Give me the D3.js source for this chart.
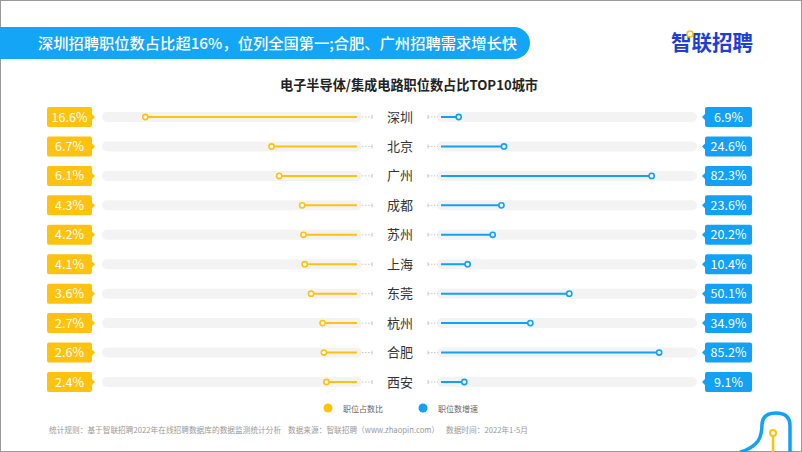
<!DOCTYPE html>
<html><head><meta charset="utf-8">
<script src="https://cdn.jsdelivr.net/npm/d3@7"></script>
<style>
html,body{margin:0;padding:0;background:#fff;}
svg{display:block;font-family:"Noto Sans CJK SC","Noto Sans",sans-serif;}
</style></head>
<body>
<script>
const cities = ["深圳","北京","广州","成都","苏州","上海","东莞","杭州","合肥","西安"];
const shareValues = [16.6, 6.7, 6.1, 4.3, 4.2, 4.1, 3.6, 2.7, 2.6, 2.4];
const growthValues = [6.9, 24.6, 82.3, 23.6, 20.2, 10.4, 50.1, 34.9, 85.2, 9.1];
const legendLabels = ["职位占数比", "职位数增速"];
const headline = "深圳招聘职位数占比超16%，位列全国第一;合肥、广州招聘需求增长快";
const chartTitle = "电子半导体/集成电路职位数占比TOP10城市";
const footnote = "统计规则：基于智联招聘2022年在线招聘数据库的数据监测统计分析    数据来源：智联招聘（www.zhaopin.com）    数据时间：2022年1-5月";

const W = 802, H = 452;
const YEL = "#FFC20E", BLUE = "#12A1F5", TRACK = "#F3F3F3";

const svg = d3.select("body").append("svg").attr("width", W).attr("height", H);
svg.append("rect").attr("x",0.5).attr("y",0.5).attr("width",W-1).attr("height",H-1)
  .attr("fill","#fff").attr("stroke","#9a9a9a");

// headline banner
svg.append("path").attr("d","M0,27 H514 A16,16 0 0 1 514,59 H0 Z").attr("fill","#15A5F6");
svg.append("text").attr("x",38).attr("y",48.5).attr("fill","#fff").attr("font-size",15)
  .attr("font-weight",500).attr("textLength",479).attr("lengthAdjust","spacingAndGlyphs").text(headline);
// logo
svg.append("text").attr("x",671).attr("y",50).attr("fill","#1E3FD0").attr("font-size",21)
  .attr("font-weight",700).attr("textLength",82).attr("lengthAdjust","spacingAndGlyphs").text("智联招聘");
svg.append("circle").attr("cx",690).attr("cy",34).attr("r",3).attr("fill","#fff").attr("stroke","#FFC20E").attr("stroke-width",1.6);

svg.append("text").attr("x",280).attr("y",90).attr("font-size",13.5)
  .attr("font-weight",700).attr("fill","#222").attr("textLength",258).attr("lengthAdjust","spacingAndGlyphs").text(chartTitle);

const y = d3.scalePoint().domain(cities).range([117, 382]);
const xL = d3.scaleLinear().domain([0, 20]).range([357, 102]);
const xR = d3.scaleLinear().domain([0, 100]).range([441, 697]);

const rows = svg.append("g").selectAll("g").data(cities).join("g")
  .attr("transform", d => `translate(0,${y(d)})`);

// tracks
rows.append("rect").attr("x",102).attr("y",-5).attr("width",260).attr("height",10).attr("rx",5).attr("fill",TRACK);
rows.append("rect").attr("x",437).attr("y",-5).attr("width",260).attr("height",10).attr("rx",5).attr("fill",TRACK);
// dotted connectors
rows.append("line").attr("x1",362).attr("x2",372).attr("y1",0).attr("y2",0).attr("stroke","#c8c8c8").attr("stroke-dasharray","1.5,1.5");
rows.append("line").attr("x1",372).attr("x2",372).attr("y1",-2).attr("y2",2).attr("stroke","#c8c8c8");
rows.append("line").attr("x1",428).attr("x2",438).attr("y1",0).attr("y2",0).attr("stroke","#c8c8c8").attr("stroke-dasharray","1.5,1.5");
rows.append("line").attr("x1",428).attr("x2",428).attr("y1",-2).attr("y2",2).attr("stroke","#c8c8c8");

rows.append("text").attr("x",400).attr("y",4.5).attr("text-anchor","middle").attr("font-size",13)
  .attr("fill","#333").text(d => d);

// left lines
rows.append("line").attr("x1",(d,i)=>xL(shareValues[i])).attr("x2",xL(0)).attr("y1",0).attr("y2",0)
  .attr("stroke",YEL).attr("stroke-width",2);
rows.append("circle").attr("cx",(d,i)=>xL(shareValues[i])).attr("cy",0).attr("r",2.6)
  .attr("fill","#fff").attr("stroke",YEL).attr("stroke-width",1.6);
// right lines
rows.append("line").attr("x1",xR(0)).attr("x2",(d,i)=>xR(growthValues[i])).attr("y1",0).attr("y2",0)
  .attr("stroke",BLUE).attr("stroke-width",2);
rows.append("circle").attr("cx",(d,i)=>xR(growthValues[i])).attr("cy",0).attr("r",2.6)
  .attr("fill","#fff").attr("stroke",BLUE).attr("stroke-width",1.6);

// left value boxes
rows.append("path").attr("d","M49,-10 H90 Q92,-10 92,-8 V-3 L95,0 L92,3 V8 Q92,10 90,10 H49 Q47,10 47,8 V-8 Q47,-10 49,-10 Z").attr("fill",YEL);
rows.append("text").attr("x",69.5).attr("y",4.5).attr("text-anchor","middle").attr("font-size",12.5)
  .attr("fill","#fff").text((d,i)=>shareValues[i].toFixed(1)+"%");
// right value boxes
rows.append("path").attr("d","M707,-10 H750 Q752,-10 752,-8 V8 Q752,10 750,10 H707 Q705,10 705,8 V3 L702,0 L705,-3 V-8 Q705,-10 707,-10 Z").attr("fill",BLUE);
rows.append("text").attr("x",728.5).attr("y",4.5).attr("text-anchor","middle").attr("font-size",12.5)
  .attr("fill","#fff").text((d,i)=>growthValues[i].toFixed(1)+"%");

// legend
const lg = svg.append("g");
[[328, YEL, legendLabels[0]], [423, BLUE, legendLabels[1]]].forEach(([x,c,t])=>{
  lg.append("circle").attr("cx",x).attr("cy",408).attr("r",4.5).attr("fill",c);
  lg.append("text").attr("x",x+15).attr("y",411.5).attr("font-size",8.5).attr("fill","#666")
    .attr("textLength",40).attr("lengthAdjust","spacingAndGlyphs").text(t);
});

svg.append("text").attr("x",49).attr("y",433).attr("font-size",7.8).attr("fill","#999")
  .attr("textLength",479).attr("lengthAdjust","spacingAndGlyphs").style("white-space","pre").text(footnote);

// decoration bottom-right
svg.append("path").attr("d","M740,452 Q752,449 758,441 Q762,435 762,424 Q763,413 776,413 Q790,413 790,426 V452")
  .attr("fill","none").attr("stroke",BLUE).attr("stroke-width",3.5);
svg.append("line").attr("x1",773).attr("x2",773).attr("y1",436).attr("y2",452).attr("stroke",YEL).attr("stroke-width",2.5);
svg.append("circle").attr("cx",773).attr("cy",433).attr("r",3).attr("fill","#fff").attr("stroke",YEL).attr("stroke-width",2);
</script>
</body></html>
